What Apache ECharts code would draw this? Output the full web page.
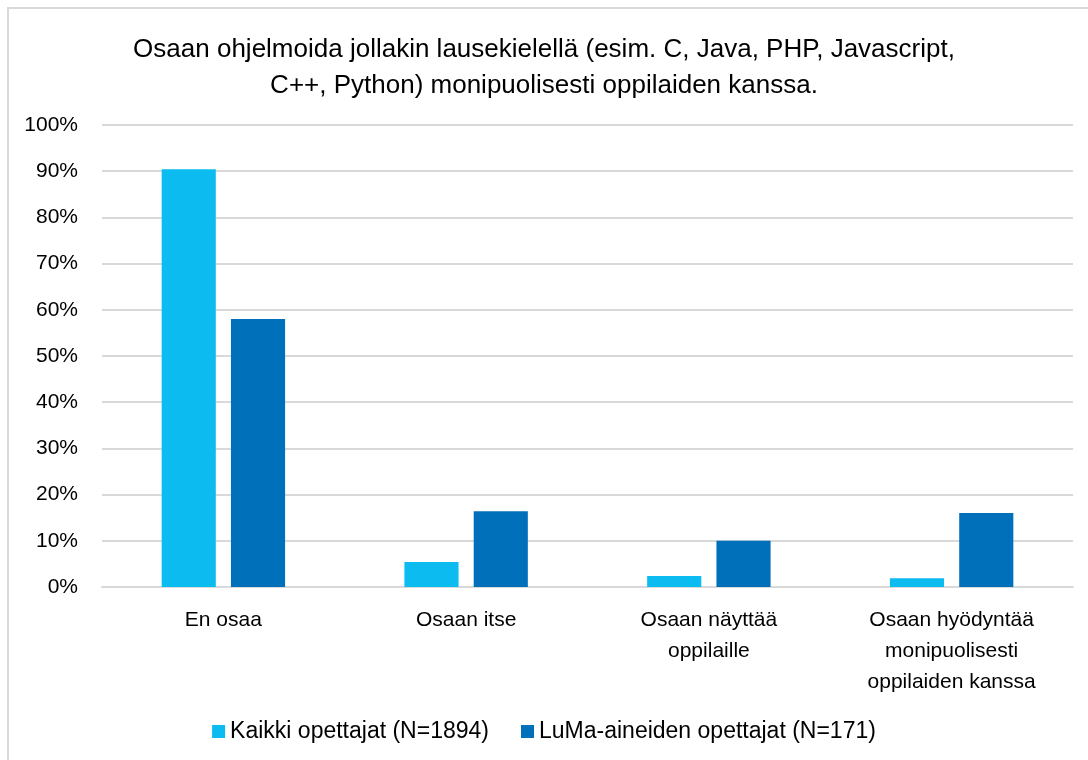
<!DOCTYPE html>
<html>
<head>
<meta charset="utf-8">
<script src="https://cdn.jsdelivr.net/npm/echarts@6/dist/echarts.min.js"></script>
<style>
  html, body { margin: 0; padding: 0; background: #fff; overflow: hidden; }
  #frame {
    position: absolute; left: 7px; top: 7px; width: 1090px; height: 760px;
    border-top: 2px solid #d9d9d9; border-left: 2px solid #d9d9d9;
    box-sizing: border-box;
  }
  #chart { position: absolute; left: 0; top: 0; width: 1088px; height: 760px; }
</style>
</head>
<body>
<div id="frame"></div>
<div id="chart"></div>
<script>
// otsikko ja kategoriat
const chartTitle = 'Osaan ohjelmoida jollakin lausekielellä (esim. C, Java, PHP, Javascript,\nC++, Python) monipuolisesti oppilaiden kanssa.'
const categories = ['En osaa', 'Osaan itse', 'Osaan näyttää\noppilaille', 'Osaan hyödyntää\nmonipuolisesti\noppilaiden kanssa']
const yTicks = [0, 10, 20, 30, 40, 50, 60, 70, 80, 90, 100]

// prosenttiosuudet
const seriesNames = ['Kaikki opettajat (N=1894)', 'LuMa-aineiden opettajat (N=171)']
const kaikkiValues = [90.4, 5.4, 2.4, 1.9]
const lumaValues = [58.0, 16.4, 10.0, 16.0]

const font = 'Liberation Sans'
const myChart = echarts.init(document.getElementById('chart'))

let option = {
    backgroundColor: 'transparent',
    animation: false,
    title: {
        text: chartTitle,
        left: 'center',
        top: 27,
        textStyle: {
            fontFamily: font,
            fontWeight: 'normal',
            fontSize: 26,
            lineHeight: 36,
            color: '#000'
        }
    },
    legend: {
        bottom: 12,
        left: 'center',
        itemWidth: 13,
        itemHeight: 13,
        itemGap: 32,
        icon: 'rect',
        textStyle: { fontFamily: font, fontSize: 23, color: '#000' },
        data: seriesNames
    },
    grid: {
        left: 102,
        right: 15,
        top: 125,
        bottom: 173
    },
    xAxis: {
        type: 'category',
        data: categories,
        axisTick: { show: false },
        axisLine: { lineStyle: { color: '#d9d9d9', width: 2 } },
        axisLabel: {
            fontFamily: font,
            fontSize: 21,
            lineHeight: 31,
            color: '#000',
            margin: 18,
            interval: 0
        }
    },
    yAxis: {
        type: 'value',
        min: yTicks[0],
        max: yTicks[yTicks.length - 1],
        interval: 10,
        axisLine: { show: false },
        axisTick: { show: false },
        axisLabel: {
            fontFamily: font,
            fontSize: 21,
            color: '#000',
            margin: 24,
            formatter: '{value}%'
        },
        splitLine: { lineStyle: { color: '#d9d9d9', width: 2 } }
    },
    series: [
        {
            name: seriesNames[0],
            type: 'bar',
            barWidth: '22.3%',
            barGap: '28%',
            itemStyle: { color: '#0cbbef' },
            data: kaikkiValues
        },
        {
            name: seriesNames[1],
            type: 'bar',
            barWidth: '22.3%',
            itemStyle: { color: '#0070ba' },
            data: lumaValues
        }
    ]
}

myChart.setOption(option)
</script>
</body>
</html>
